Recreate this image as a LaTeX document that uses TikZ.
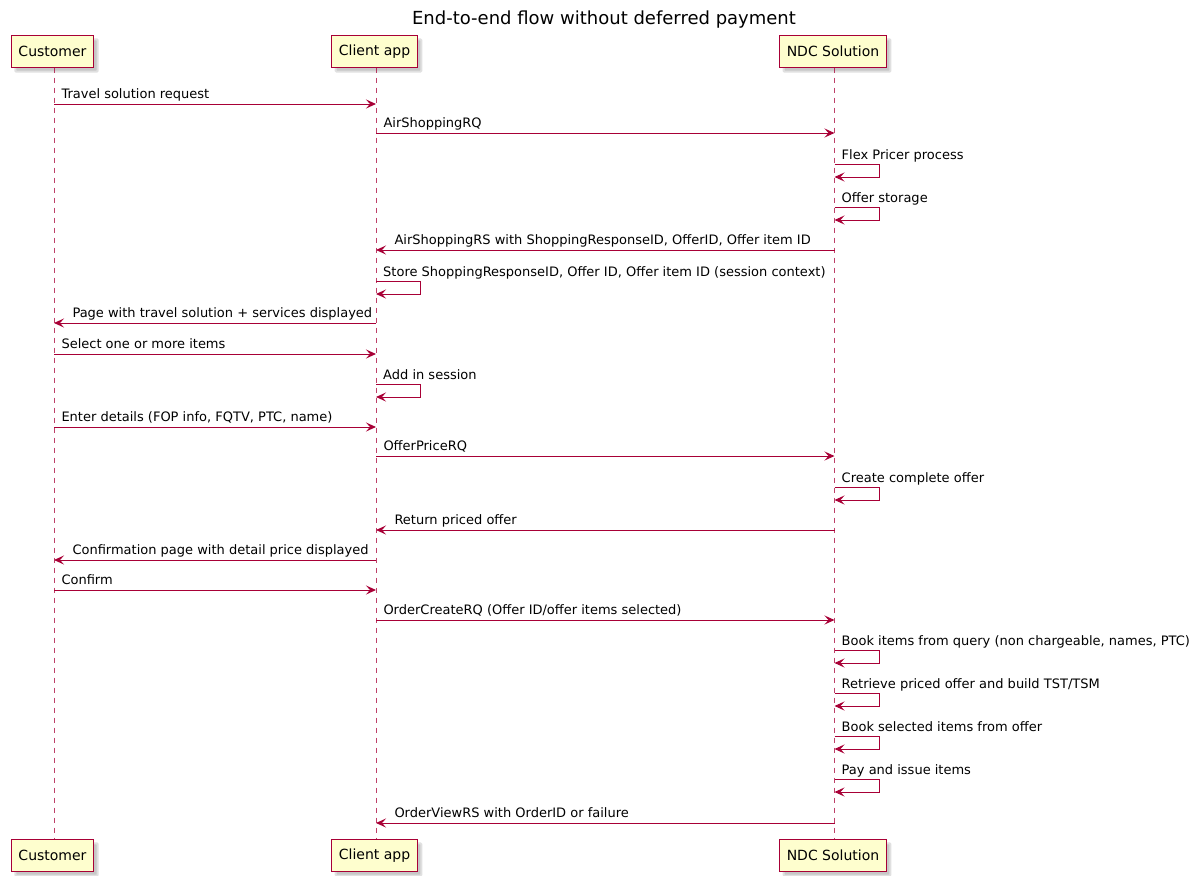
\documentclass[tikz,border=0pt]{standalone}
\usepackage{fontspec}
\setmainfont{DejaVu Sans}
\usetikzlibrary{arrows.meta,backgrounds}
\definecolor{puml}{RGB}{168,0,54}
\definecolor{pfill}{RGB}{254,254,206}
\tikzset{
  part/.style={fill=pfill, text=black, minimum height=32pt, inner xsep=7pt, inner ysep=0pt,
    font=\fontsize{14}{16}\selectfont},
  edge/.style={draw=puml, line width=1.4pt},
  shad/.style={fill=black!22, draw=black!12, line width=2pt, rounded corners=1pt},
  life/.style={draw=puml, line width=0.9pt, dash pattern=on 5pt off 5pt, opacity=0.75},
  msg/.style={draw=puml, line width=1pt, -{Stealth[length=10pt,width=9pt,inset=4pt]}},
  lbl/.style={inner sep=0pt, font=\fontsize{13}{15}\selectfont},
  fwd/.style={lbl, pos=0, anchor=base west, xshift=7pt, yshift=5.5pt},
  bwd/.style={lbl, pos=1, anchor=base west, xshift=18pt, yshift=5.5pt},
}
\begin{document}
\begin{tikzpicture}[x=1pt,y=-1pt]
\useasboundingbox (0,0) rectangle (1204,875);
\node[font=\fontsize{18}{20}\selectfont, anchor=base] (title) at (604,25) {End-to-end flow without deferred payment};
% participants
\node[part] (cu1) at (52.5,51.5) {Customer};
\node[part] (cl1) at (374.5,51.5) {Client app};
\node[part] (nd1) at (833,51.5) {NDC Solution};
\node[part] (cu2) at (52.5,855.5) {Customer};
\node[part] (cl2) at (374.5,855.5) {Client app};
\node[part] (nd2) at (833,855.5) {NDC Solution};
\foreach \b in {cu1,cl1,nd1,cu2,cl2,nd2}{
  \draw[edge] (\b.north west) rectangle (\b.south east);
}
\begin{scope}[on background layer]
\foreach \b in {cu1,cl1,nd1,cu2,cl2,nd2}{
  \path[shad] ([shift={(4,4)}]\b.north west) rectangle ([shift={(4,4)}]\b.south east);
}
\end{scope}
% lifelines
\coordinate (xc) at ([xshift=1.5pt]cu1.south);
\coordinate (xa) at ([xshift=1.5pt]cl1.south);
\coordinate (xn) at ([xshift=1.5pt]nd1.south);
\coordinate (ec) at ([xshift=1.5pt]cu2.north);
\coordinate (ea) at ([xshift=1.5pt]cl2.north);
\coordinate (en) at ([xshift=1.5pt]nd2.north);
\draw[life] (xc) -- (ec);
\draw[life] (xa) -- (ea);
\draw[life] (xn) -- (en);
% messages
\draw[msg] (xc |- 0,104) -- (xa |- 0,104) node[fwd] (t1) {Travel solution request};
\draw[msg] (xa |- 0,133) -- (xn |- 0,133) node[fwd] (t2) {AirShoppingRQ};
\draw[msg] (xn |- 0,164) -- ++(45,0) -- ++(0,13) -- (xn |- 0,177);
\node[lbl, anchor=base west] (t3) at ([xshift=7pt]xn |- 0,159) {Flex Pricer process};
\draw[msg] (xn |- 0,207) -- ++(45,0) -- ++(0,13) -- (xn |- 0,220);
\node[lbl, anchor=base west] (t4) at ([xshift=7pt]xn |- 0,202) {Offer storage};
\draw[msg] (xn |- 0,250) -- (xa |- 0,250) node[bwd] (t5) {AirShoppingRS with ShoppingResponseID, OfferID, Offer item ID};
\draw[msg] (xa |- 0,281) -- ++(44,0) -- ++(0,13) -- (xa |- 0,294);
\node[lbl, anchor=base west] (t6) at ([xshift=7pt]xa |- 0,276) {Store ShoppingResponseID, Offer ID, Offer item ID (session context)};
\draw[msg] (xa |- 0,323) -- (xc |- 0,323) node[bwd] (t7) {Page with travel solution + services displayed};
\draw[msg] (xc |- 0,354) -- (xa |- 0,354) node[fwd] (t8) {Select one or more items};
\draw[msg] (xa |- 0,384) -- ++(44,0) -- ++(0,13) -- (xa |- 0,397);
\node[lbl, anchor=base west] (t9) at ([xshift=7pt]xa |- 0,379) {Add in session};
\draw[msg] (xc |- 0,427) -- (xa |- 0,427) node[fwd] (t10) {Enter details (FOP info, FQTV, PTC, name)};
\draw[msg] (xa |- 0,456) -- (xn |- 0,456) node[fwd] (t11) {OfferPriceRQ};
\draw[msg] (xn |- 0,487) -- ++(45,0) -- ++(0,13) -- (xn |- 0,500);
\node[lbl, anchor=base west] (t12) at ([xshift=7pt]xn |- 0,482) {Create complete offer};
\draw[msg] (xn |- 0,530) -- (xa |- 0,530) node[bwd] (t13) {Return priced offer};
\draw[msg] (xa |- 0,560) -- (xc |- 0,560) node[bwd] (t14) {Confirmation page with detail price displayed};
\draw[msg] (xc |- 0,590) -- (xa |- 0,590) node[fwd] (t15) {Confirm};
\draw[msg] (xa |- 0,620) -- (xn |- 0,620) node[fwd] (t16) {OrderCreateRQ (Offer ID/offer items selected)};
\draw[msg] (xn |- 0,650) -- ++(45,0) -- ++(0,13) -- (xn |- 0,663);
\node[lbl, anchor=base west] (t17) at ([xshift=7pt]xn |- 0,645) {Book items from query (non chargeable, names, PTC)};
\draw[msg] (xn |- 0,693) -- ++(45,0) -- ++(0,13) -- (xn |- 0,706);
\node[lbl, anchor=base west] (t18) at ([xshift=7pt]xn |- 0,688) {Retrieve priced offer and build TST/TSM};
\draw[msg] (xn |- 0,736) -- ++(45,0) -- ++(0,13) -- (xn |- 0,749);
\node[lbl, anchor=base west] (t19) at ([xshift=7pt]xn |- 0,731) {Book selected items from offer};
\draw[msg] (xn |- 0,779) -- ++(45,0) -- ++(0,13) -- (xn |- 0,792);
\node[lbl, anchor=base west] (t20) at ([xshift=7pt]xn |- 0,774) {Pay and issue items};
\draw[msg] (xn |- 0,823) -- (xa |- 0,823) node[bwd] (t21) {OrderViewRS with OrderID or failure};
\end{tikzpicture}
\end{document}
